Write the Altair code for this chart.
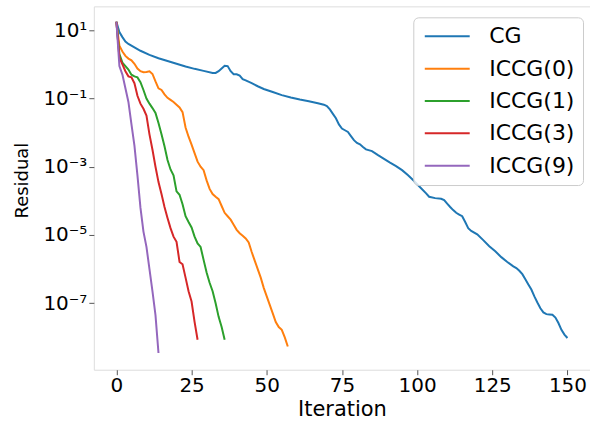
import altair as alt
import pandas as pd
import math

# ---- data (residuals stored as log10 values) ----
series_names = ["CG", "ICCG(0)", "ICCG(1)", "ICCG(3)", "ICCG(9)"]
series_colors = ["#1f77b4", "#ff7f0e", "#2ca02c", "#d62728", "#9467bd"]

cg_iter = [0, 1, 2, 3, 4, 6, 8, 11, 14, 17, 20, 23, 26, 29, 32, 33, 34, 35, 36, 37,
           38, 39, 40, 41, 42, 43, 45, 47, 49, 52, 55, 58, 61, 64, 67, 69, 70, 71, 72, 73,
           74, 75, 76, 77, 78, 79, 80, 81, 82, 83, 85, 87, 89, 91, 93, 95, 97, 99, 101, 103,
           104, 106, 108, 109, 110, 111, 112, 113, 114, 115, 116, 117, 118, 120, 122, 124, 126, 128, 130, 132,
           133, 134, 135, 136, 137, 138, 139, 140, 141, 142, 143, 144, 145, 146, 147, 148, 149, 150]
cg_log10 = [1.25, 0.95, 0.80, 0.67, 0.60, 0.50, 0.40, 0.28, 0.18, 0.10, 0.02, -0.06, -0.13, -0.19, -0.25, -0.25, -0.20, -0.12, -0.04, -0.05,
            -0.20, -0.29, -0.29, -0.33, -0.43, -0.47, -0.55, -0.64, -0.72, -0.81, -0.90, -0.97, -1.03, -1.08, -1.14, -1.18, -1.22, -1.32, -1.45, -1.58,
            -1.76, -1.88, -1.93, -1.98, -2.10, -2.22, -2.30, -2.34, -2.42, -2.49, -2.54, -2.66, -2.77, -2.88, -2.98, -3.10, -3.25, -3.42, -3.60, -3.78,
            -3.88, -3.92, -3.94, -3.98, -4.08, -4.18, -4.27, -4.35, -4.40, -4.45, -4.62, -4.80, -4.88, -4.98, -5.15, -5.33, -5.48, -5.65, -5.79, -5.92,
            -5.97, -6.05, -6.15, -6.30, -6.45, -6.60, -6.80, -6.98, -7.15, -7.27, -7.32, -7.33, -7.34, -7.42, -7.58, -7.78, -7.92, -8.02]

iccg0_log10 = [1.25, 0.55, 0.38, 0.25, 0.17, 0.12, 0.02, -0.12, -0.20, -0.23,
               -0.22, -0.20, -0.28, -0.50, -0.70, -0.75, -0.88, -0.98, -1.04, -1.10,
               -1.18, -1.26, -1.40, -1.85, -2.12, -2.35, -2.60, -2.85, -3.00, -3.10,
               -3.40, -3.65, -3.80, -3.88, -3.95, -4.15, -4.35, -4.45, -4.55, -4.70,
               -4.85, -4.95, -5.02, -5.10, -5.22, -5.50, -5.75, -6.00, -6.25, -6.55,
               -6.80, -7.05, -7.30, -7.55, -7.70, -7.78, -8.00, -8.27]

iccg1_log10 = [1.25, 0.30, 0.05, -0.05, -0.15, -0.30, -0.35, -0.38, -0.52, -0.75,
               -1.00, -1.15, -1.28, -1.42, -1.72, -2.05, -2.40, -2.80, -3.08, -3.25,
               -3.72, -3.82, -4.10, -4.45, -4.62, -4.78, -5.05, -5.25, -5.35, -5.73,
               -6.10, -6.40, -6.65, -7.00, -7.40, -7.70, -8.07]

iccg3_log10 = [1.25, 0.20, 0.00, -0.20, -0.35, -0.38, -0.55, -0.92, -1.15, -1.30,
               -1.50, -2.05, -2.50, -3.00, -3.45, -3.80, -4.18, -4.50, -4.80, -5.05,
               -5.20, -5.79, -5.86, -6.25, -6.65, -6.95, -7.55, -8.07]

iccg9_log10 = [1.25, -0.05, -0.30, -0.70, -1.10, -1.75, -2.38, -3.25, -4.20, -4.90,
               -5.35, -6.00, -6.65, -7.35, -8.46]

x_ticks = [0, 25, 50, 75, 100, 125, 150]
y_ticks = [1e1, 1e-1, 1e-3, 1e-5, 1e-7]
y_tick_labels = ["10¹", "10⁻¹", "10⁻³", "10⁻⁵", "10⁻⁷"]

# ---- table ----
rows = []
all_series = [
    (series_names[0], cg_iter, cg_log10),
    (series_names[1], list(range(len(iccg0_log10))), iccg0_log10),
    (series_names[2], list(range(len(iccg1_log10))), iccg1_log10),
    (series_names[3], list(range(len(iccg3_log10))), iccg3_log10),
    (series_names[4], list(range(len(iccg9_log10))), iccg9_log10),
]
for order, (name, its, logs) in enumerate(all_series):
    for i, l in zip(its, logs):
        rows.append({"method": name, "order": order, "iteration": i, "residual": 10.0 ** l})
df = pd.DataFrame(rows)

exp_map = ", ".join(
    "'%d': '%s'" % (round(math.log10(v)), lab) for v, lab in zip(y_ticks, y_tick_labels)
)
label_expr = "({%s})['' + round(log(datum.value) / LN10)]" % exp_map

FONT = "DejaVu Sans"

chart = (
    alt.Chart(df)
    .mark_line(strokeWidth=2, clip=True)
    .encode(
        x=alt.X(
            "iteration:Q",
            scale=alt.Scale(domain=[-7.5, 157.5], nice=False, zero=False),
            axis=alt.Axis(
                values=x_ticks, title="Iteration", grid=False, domain=False,
                labelFontSize=20, labelFont=FONT, labelColor="black", labelPadding=1,
                tickSize=5, tickColor="#555", tickWidth=1,
                titleFontSize=21, titleFont=FONT, titleFontWeight="normal", titleColor="black",
                titleX=248.5, titleY=45.8, titleBaseline="alphabetic", titleAlign="center",
                labelFlush=False,
            ),
        ),
        y=alt.Y(
            "residual:Q",
            scale=alt.Scale(type="log", domain=[10 ** -8.95, 10 ** 1.702], nice=False),
            axis=alt.Axis(
                values=y_ticks, labelExpr=label_expr, title="Residual", grid=False, domain=False,
                labelFontSize=20, labelFont=FONT, labelColor="black", labelPadding=2,
                tickSize=5, tickColor="#555", tickWidth=1, labelFlush=False,
                titleFontSize=18, titleFont=FONT, titleFontWeight="normal", titleColor="black",
                titleX=-66, titleY=174, titleAngle=270, titleBaseline="alphabetic", titleAlign="center",
            ),
        ),
        color=alt.Color(
            "method:N",
            scale=alt.Scale(domain=series_names, range=series_colors),
            legend=alt.Legend(
                orient="none", legendX=320, legendY=11, title=None,
                symbolType="M-1,0H5", symbolSize=225, symbolStrokeWidth=2,
                labelFontSize=22, labelFont=FONT, labelColor="black", labelOffset=46,
                rowPadding=10.4, padding=8, strokeColor="#cccccc",
                fillColor="rgba(255,255,255,0.8)", cornerRadius=5,
            ),
        ),
        order=alt.Order("order:Q"),
    )
    .properties(
        width=497, height=364,
        autosize=alt.AutoSizeParams(type="none"),
        padding={"left": 94, "top": 6, "right": 0, "bottom": 51},
    )
    .configure_view(stroke="#555", strokeWidth=1)
    .configure(font=FONT, background="white")
)

chart.save("out.html", embed_options={"renderer": "svg", "actions": False})
